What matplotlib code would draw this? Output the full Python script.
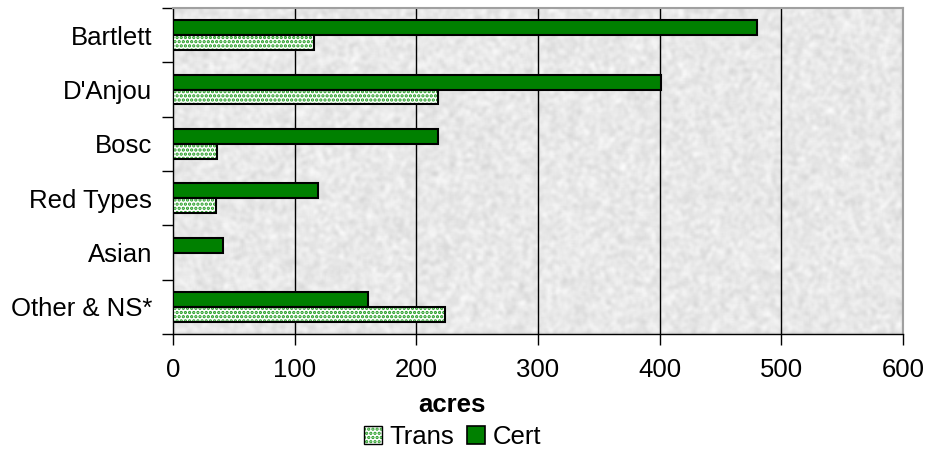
import matplotlib
matplotlib.use("Agg")
import matplotlib.pyplot as plt
from matplotlib.patches import Patch
from matplotlib.legend_handler import HandlerTuple
import numpy as np

plt.rcParams['font.family'] = ['Liberation Sans', 'DejaVu Sans']
plt.rcParams['hatch.linewidth'] = 1.6

varieties = ['Bartlett', "D'Anjou", 'Bosc', 'Red Types', 'Asian', 'Other & NS*']
cert = [480, 401, 218, 119, 41, 160]
trans = [116, 218, 36, 35, 0, 224]
xticks = [0, 100, 200, 300, 400, 500, 600]

green = '#008000'
dot_green = '#1e9a1e'
fs = 18.5

fig = plt.figure(figsize=(9.27, 4.58), dpi=100)
ax = fig.add_axes([0.1866, 0.2707, 0.7874, 0.7118])

# grey paper-like texture behind the bars
rng = np.random.default_rng(3)
noise = rng.random((230, 520))
k = np.ones(3) / 3
for _ in range(2):
    noise = np.apply_along_axis(lambda r: np.convolve(r, k, mode='same'), 1, noise)
    noise = np.apply_along_axis(lambda c: np.convolve(c, k, mode='same'), 0, noise)
noise = (noise - noise.min()) / (noise.max() - noise.min())
tex = 0.80 + 0.19 * noise
ax.imshow(tex, cmap='gray', vmin=0, vmax=1, extent=[0, 600, 5.5, -0.5],
          aspect='auto', zorder=0, interpolation='bilinear')

y = np.arange(len(varieties))
h = 0.275
ax.barh(y - h / 2, cert, height=h, color=green, edgecolor='black', linewidth=1.5, zorder=3)
# dotted fill for transition acres, then a black outline on top
ax.barh(y + h / 2, trans, height=h, color='white', edgecolor=dot_green, hatch='....',
        linewidth=0, zorder=3)
ax.barh([yy + h / 2 for yy, t in zip(y, trans) if t > 0], [t for t in trans if t > 0],
        height=h, fill=False, edgecolor='black', linewidth=1.5, zorder=4)

for xv in xticks[1:-1]:
    ax.axvline(xv, color='black', linewidth=1, zorder=2)

ax.set_xlim(0, 600)
ax.set_ylim(5.5, -0.5)
ax.set_xticks(xticks)
ax.set_xticklabels([str(v) for v in xticks], fontsize=fs)
ax.tick_params(axis='x', direction='out', length=8, width=1, pad=9)

ax.set_yticks(np.arange(-0.5, 6, 1))
ax.set_yticklabels([])
ax.set_yticks(y, minor=True)
ax.set_yticklabels(varieties, minor=True, fontsize=fs)
ax.tick_params(axis='y', which='major', direction='out', length=8, width=1)
ax.tick_params(axis='y', which='minor', length=0, pad=15)

for s in ['left', 'bottom']:
    ax.spines[s].set_color('black')
    ax.spines[s].set_linewidth(1)
for s in ['top', 'right']:
    ax.spines[s].set_color('#a0a0a0')
    ax.spines[s].set_linewidth(1.5)

fig.text(0.488, 0.115, 'acres', ha='center', va='center', fontsize=fs, fontweight='bold')

trans_h = (Patch(facecolor='white', edgecolor=dot_green, hatch='....', linewidth=0),
           Patch(fill=False, edgecolor='black', linewidth=1))
cert_h = Patch(facecolor=green, edgecolor='black', linewidth=1.2)
fig.legend([trans_h, cert_h], ['Trans', 'Cert'], loc='center', bbox_to_anchor=(0.488, 0.045),
           ncol=2, frameon=False, fontsize=fs, handlelength=0.7, handleheight=0.7,
           handletextpad=0.3, columnspacing=0.5, borderpad=0,
           handler_map={tuple: HandlerTuple(ndivide=1, pad=0)})

fig.savefig('out.png', dpi=100)
